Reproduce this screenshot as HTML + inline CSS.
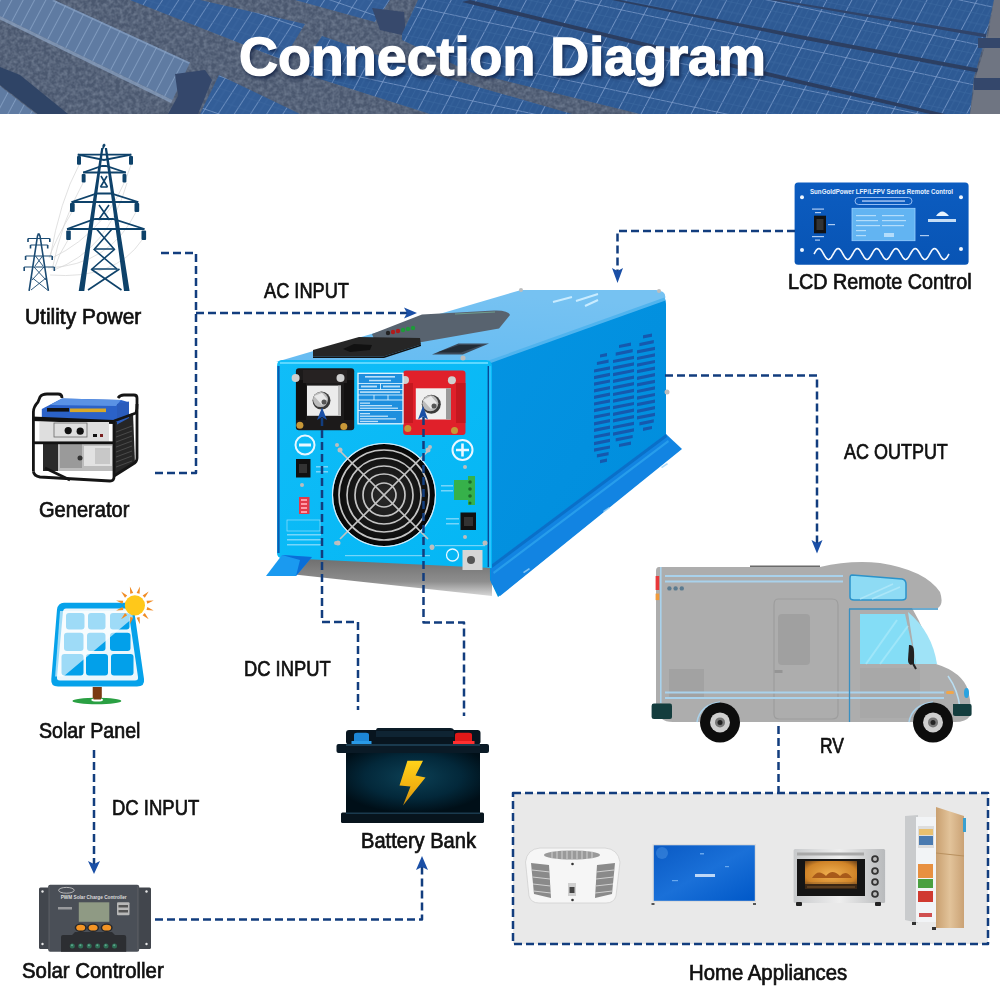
<!DOCTYPE html>
<html><head><meta charset="utf-8">
<style>
html,body{margin:0;padding:0;width:1000px;height:1000px;overflow:hidden;background:#fff}
body{position:relative;font-family:"Liberation Sans",sans-serif}
.lbl{position:absolute;font-size:21.5px;line-height:21px;color:#111;white-space:nowrap;transform-origin:0 0;-webkit-text-stroke:0.7px #111}
svg{position:absolute;left:0;top:0}
#title{position:absolute;left:239px;top:29px;font-size:54px;line-height:54px;font-weight:bold;color:#fff;white-space:nowrap;transform-origin:0 0;transform:scaleX(0.998);-webkit-text-stroke:1.3px #fff;text-shadow:2px 3px 4px rgba(10,25,60,.8)}
</style></head><body>
<!-- HEADER -->
<svg width="1000" height="114" viewBox="0 0 1000 114">
<defs>
<pattern id="pLight" width="10" height="60" patternUnits="userSpaceOnUse" patternTransform="rotate(28)"><rect width="10" height="60" fill="#5f7ba2"/><path d="M0 0V60" stroke="#8aa4c8" stroke-width="1.5"/></pattern>
<pattern id="pBlueL" width="14" height="36" patternUnits="userSpaceOnUse" patternTransform="rotate(19) skewX(-14)"><rect width="14" height="36" fill="#335e98"/><path d="M0 0V36M0 0H14" stroke="#7f9ecb" stroke-width="1.4"/><path d="M7 0V36M0 12H14M0 24H14" stroke="#3d689f" stroke-width="0.6"/></pattern>
<pattern id="pBlueR" width="23" height="40" patternUnits="userSpaceOnUse" patternTransform="rotate(12) skewX(-16)"><rect width="23" height="40" fill="#2e5a94"/><path d="M0 0V40M0 0H23" stroke="#7e9dcc" stroke-width="1.6"/><path d="M5.75 0V40M11.5 0V40M17.25 0V40M0 10H23M0 20H23M0 30H23" stroke="#3a669e" stroke-width="0.7"/></pattern>
<filter id="noise" x="0" y="0" width="100%" height="100%"><feTurbulence type="fractalNoise" baseFrequency="0.25" numOctaves="3" seed="7"/><feColorMatrix type="matrix" values="0 0 0 0 0.22  0 0 0 0 0.27  0 0 0 0 0.36  0 0 0 1.6 -0.5"/><feComposite in2="SourceGraphic" operator="in"/></filter>
</defs>
<rect width="1000" height="114" fill="#4b586f"/>
<rect width="1000" height="114" fill="#000" filter="url(#noise)" opacity="0.7"/>
<!-- left -->
<path d="M0 0H54L190 62.5L172.5 100L0 16Z" fill="url(#pLight)"/>
<path d="M0 16L172.5 100L171 103L0 19.5Z" fill="#8ea6c8" opacity="0.7"/>
<path d="M54 0L190 62.5L189 64L52 1Z" fill="#8ea6c8" opacity="0.6"/>
<path d="M0 67L20 75L68 114H37.5L0 85Z" fill="#2f4466"/>
<path d="M0 86L36 114H0Z" fill="url(#pLight)"/>
<path d="M175 74L205 70L212 80L198 114H168L178 96Z" fill="#34476b"/>
<path d="M130 0H200L305 24L283 60Z" fill="url(#pBlueL)"/>
<path d="M200 114L219 75L300 114Z" fill="url(#pBlueL)"/>
<path d="M295 0H390L375 22Z" fill="url(#pBlueL)"/>
<path d="M372 8L404 12L406 36L380 30Z" fill="#37496c"/>
<!-- field rows -->
<path d="M418 0H994L986 36L974 77L970 114H640L470 72L402 40V34Z" fill="url(#pBlueR)"/>
<path d="M322 36L431 73.5L572 114H430L298 72Z" fill="url(#pBlueR)"/>
<path d="M780 0L986 34V37.5L770 0Z" fill="#30446a"/>
<path d="M620 0L800 35L986 70V74L800 39L612 0Z" fill="#2c3f62"/>
<path d="M470 0L630 39L800 80L945 114H930L800 84L630 43L462 2Z" fill="#2b3d60"/>
<path d="M988 36H1000V114H970L976 76Z" fill="#6f7582"/>
<path d="M978 38H1000V48H978Z" fill="#34476b"/><path d="M974 78H1000V90H974Z" fill="#34476b"/>
<path d="M994 0H1000V36H988Z" fill="#6e7380"/>
</svg>
<div id="title">Connection Diagram</div>

<!-- MAIN SVG -->
<svg width="1000" height="1000" viewBox="0 0 1000 1000" id="main">
<defs>
<marker id="ah" viewBox="0 0 12 10" refX="11" refY="5" markerWidth="12" markerHeight="10" markerUnits="userSpaceOnUse" orient="auto"><path d="M0 0L12 5L0 10L3 5Z" fill="#1a4fa6"/></marker>
</defs>
<rect x="513" y="793" width="475" height="151" fill="#e9e9e9"/>

<!-- RV -->
<g id="rv">
<path d="M750 565.5H820V568H750Z" fill="#6a6a6a"/>
<path d="M659 567H820Q850 560 880 563Q925 570 940 592Q944 604 938 608H912Q925 630 936 664Q962 672 968 690Q972 705 970 716Q966 722 955 722H673Q658 722 656 708V571Q656 567 659 567Z" fill="#adadad"/>
<rect x="669" y="669" width="35" height="29" fill="#a2a2a2"/>
<path d="M778 599H832Q838 599 838 605V714Q838 719 832 719H779Q774 719 774 714V605Q774 599 778 599Z" fill="none" stroke="#9d9d9d" stroke-width="1.2"/>
<rect x="778" y="614" width="32" height="51" rx="4" fill="#a0a0a0"/>
<rect x="774.5" y="670" width="8" height="3" fill="#959595"/>
<path d="M860 668H920V718H860Z" fill="#a8a8a8"/>
<g fill="#a9d2ec"><rect x="665" y="575" width="178" height="2"/><rect x="665" y="580.5" width="178" height="2"/><rect x="665" y="691.5" width="279" height="2"/><rect x="665" y="697" width="279" height="2"/></g>
<rect x="660" y="567" width="1.6" height="136" fill="#a9d2ec"/>
<path d="M852 575L902 579Q906 580 906 584V597Q906 600 902 600H854Q850 600 850 597V578Q850 575 852 575Z" fill="#8edbf4" stroke="#2b93ca" stroke-width="1.5"/>
<path d="M860 599L893 584M872 599L900 587" stroke="#b8ebfa" stroke-width="1.5" opacity="0.7"/>
<path d="M849 609H938" stroke="#3a8fc0" stroke-width="1.3"/>
<path d="M849.5 609V722" stroke="#3a8fc0" stroke-width="1.3"/>
<path d="M860 614H905L916 664H860Z" fill="#84ddf6"/>
<path d="M866 664L897 620M880 664L908 626" stroke="#b1ecfb" stroke-width="2" opacity="0.6"/>
<path d="M908 612Q932 632 937 664H916Z" fill="#9fe3f7"/>
<path d="M909 645Q914 644 914 652V663L911 665Q908 664 908 660Z" fill="#222"/>
<path d="M911 660L916 669" stroke="#222" stroke-width="2"/>
<path d="M948 676Q958 690 960 708" stroke="#b9def2" stroke-width="1.5" fill="none"/>
<ellipse cx="966.5" cy="693" rx="2.5" ry="5" fill="#2aa3e0"/>
<rect x="946" y="691" width="8" height="3" rx="1.5" fill="#f0a64a"/>
<rect x="655.6" y="576" width="3.6" height="14" fill="#e8383a"/>
<rect x="655.6" y="593.6" width="3.6" height="6.5" fill="#f09a3a"/>
<g fill="#5b7b90"><circle cx="669.4" cy="588.4" r="2.2"/><circle cx="675.6" cy="588.4" r="2.2"/><circle cx="681.8" cy="588.4" r="2.2"/></g>
<path d="M651.6 706Q651.6 703.6 654 703.6H670Q672 703.6 672 706V717Q672 719 670 719H654Q651.6 719 651.6 717Z" fill="#143d3e"/>
<path d="M953 704H970Q971.6 704 971.6 706V714Q971.6 716 970 716H955Q953 716 953 714Z" fill="#143d3e"/>
<path d="M697 722Q700 705 720 702" stroke="#a9d2ec" stroke-width="1.5" fill="none"/>
<path d="M909 722Q912 705 933 702" stroke="#a9d2ec" stroke-width="1.5" fill="none"/>
<g><circle cx="720" cy="722.4" r="20" fill="#0d0d0d"/><circle cx="720" cy="722.4" r="10" fill="#cfcfcf"/><circle cx="720" cy="722.4" r="5" fill="#777"/><circle cx="720" cy="722.4" r="2.5" fill="#222"/></g>
<g><circle cx="933" cy="722.4" r="20" fill="#0d0d0d"/><circle cx="933" cy="722.4" r="10" fill="#cfcfcf"/><circle cx="933" cy="722.4" r="5" fill="#777"/><circle cx="933" cy="722.4" r="2.5" fill="#222"/></g>
</g>


<!-- BATTERY -->
<g id="battery">
<defs>
<radialGradient id="gBat" cx="0.5" cy="0.4" r="0.6"><stop offset="0" stop-color="#0c4055"/><stop offset="0.6" stop-color="#03283a"/><stop offset="1" stop-color="#000f18"/></radialGradient>
<linearGradient id="gBolt" x1="0" y1="0" x2="0" y2="1"><stop offset="0" stop-color="#ffd21a"/><stop offset="0.6" stop-color="#f0b010"/><stop offset="1" stop-color="#c88a10"/></linearGradient>
</defs>
<path d="M378 728H450Q454 728 454 731H376Q376 728 378 728Z" fill="#0c1c28"/>
<rect x="346" y="730" width="134.5" height="14.5" rx="3" fill="#08151f"/>
<rect x="376" y="731" width="78" height="6" fill="#0f2433"/>
<path d="M354 743V735Q354 732.8 357 732.8H366Q369 732.8 369 735V743Z" fill="#1c86d6"/>
<rect x="351.5" y="741" width="20" height="3" fill="#2a9ae6"/>
<path d="M455 743V735Q455 732.8 458 732.8H469Q472 732.8 472 735V743Z" fill="#e01818"/>
<rect x="453" y="741" width="21.5" height="3" fill="#ff3030"/>
<rect x="336.5" y="744" width="152.5" height="9" rx="2" fill="#0a1a26"/>
<rect x="346" y="744" width="134" height="2" fill="#1a3a4e"/>
<rect x="346" y="753" width="134" height="60" fill="url(#gBat)"/>
<rect x="341" y="812.5" width="143" height="10.5" rx="1.5" fill="#07141d"/>
<rect x="346" y="812.5" width="134" height="1.5" fill="#1a3a4e"/>
<path d="M407.4 760.8H423L415.5 775.5L425.5 777.5L403 805.5L410.5 786.5L399.5 785.5Z" fill="url(#gBolt)"/>
</g>


<!-- APPLIANCES -->
<g id="appliances">
<defs>
<linearGradient id="gTV" x1="0" y1="0" x2="1" y2="1"><stop offset="0" stop-color="#0a5ac4"/><stop offset="0.5" stop-color="#1a70d8"/><stop offset="1" stop-color="#0058c8"/></linearGradient>
<linearGradient id="gGold" x1="0" y1="0" x2="1" y2="0"><stop offset="0" stop-color="#c9a070"/><stop offset="0.5" stop-color="#e2c39a"/><stop offset="1" stop-color="#caa275"/></linearGradient>
<linearGradient id="gSilver" x1="0" y1="0" x2="1" y2="0"><stop offset="0" stop-color="#c8cacc"/><stop offset="0.5" stop-color="#eeeeee"/><stop offset="1" stop-color="#b8babc"/></linearGradient>
<radialGradient id="gOvenIn" cx="0.5" cy="0.5" r="0.7"><stop offset="0" stop-color="#f0b050"/><stop offset="0.7" stop-color="#d08428"/><stop offset="1" stop-color="#6a4018"/></radialGradient>
</defs>
<!-- AC unit -->
<path d="M540 848H605Q618 849 620 862L616 896Q614 903 606 903H539Q531 903 529 896L525.5 862Q527 849 540 848Z" fill="#f6f6f6"/>
<path d="M540 848H605Q618 849 620 862L616 896Q614 903 606 903H539Q531 903 529 896L525.5 862Q527 849 540 848Z" fill="none" stroke="#d0d0d0" stroke-width="0.8"/>
<ellipse cx="572" cy="855" rx="28" ry="4.5" fill="#9a9a9a"/>
<g stroke="#e0e0e0" stroke-width="0.8"><path d="M552 851V859M557 851V859M562 851V859M567 851V859M572 851V859M577 851V859M582 851V859M587 851V859M592 851V859"/></g>
<path d="M531 863L549 865L551 898L534 894Z" fill="#8a8a8a"/>
<path d="M615 863L597 865L595 898L612 894Z" fill="#8a8a8a"/>
<g stroke="#d0d0d0" stroke-width="1"><path d="M532 870L550 872M532.5 877L550 879M533 884L550.5 886M533.5 891L551 893M614 870L596 872M613.5 877L596 879M613 884L595.5 886M612.5 891L595 893"/></g>
<rect x="568" y="883" width="8" height="13" fill="#cfcfcf"/><rect x="569.5" y="887" width="5" height="6" fill="#444"/>
<circle cx="572.5" cy="864" r="1.3" fill="#333"/><circle cx="572.5" cy="900" r="1.3" fill="#333"/>
<!-- TV -->
<rect x="652.5" y="844" width="103.5" height="58" fill="#dcdcdc"/>
<rect x="653.8" y="845.3" width="101" height="55.5" fill="url(#gTV)"/>
<circle cx="662" cy="853" r="6" fill="#5aa0e8" opacity="0.4"/>
<rect x="695" y="874" width="20" height="3" fill="#e8f2ff" opacity="0.8"/>
<g fill="#9fd0ff" opacity="0.6"><rect x="700" y="853" width="4" height="1.5"/><rect x="672" y="880" width="6" height="1.2"/><rect x="725" y="866" width="4" height="1.2"/></g>
<rect x="651.5" y="903" width="3" height="2" fill="#555"/><rect x="753" y="903" width="3" height="2" fill="#555"/>
<!-- Oven -->
<rect x="793.6" y="849" width="91.5" height="54" rx="1.5" fill="url(#gSilver)"/>
<rect x="797" y="852.5" width="67" height="3" fill="#a8a8a8"/>
<rect x="797" y="859" width="68" height="37" fill="#151515"/>
<rect x="805" y="861" width="52" height="26" fill="url(#gOvenIn)"/>
<path d="M812 878Q818 868 826 876Q832 868 840 876Q846 869 852 878Z" fill="#a85a1a"/><rect x="805" y="884" width="52" height="5" fill="#3a2614"/>
<path d="M807 883H855M807 887H855" stroke="#8a6030" stroke-width="0.8"/>
<g fill="#333"><circle cx="875" cy="859" r="3.8"/><circle cx="875" cy="871" r="3.8"/><circle cx="875" cy="882" r="3.8"/><circle cx="875" cy="894" r="3.8"/></g>
<g fill="#bbb"><circle cx="875" cy="859" r="2"/><circle cx="875" cy="871" r="2"/><circle cx="875" cy="882" r="2"/><circle cx="875" cy="894" r="2"/></g>
<rect x="796" y="902" width="6" height="4" rx="1" fill="#222"/><rect x="875" y="902" width="6" height="4" rx="1" fill="#222"/>
<!-- Fridge -->
<path d="M905 816L918 815V923L905 920Z" fill="#c9cbcd"/>
<rect x="916" y="817" width="20" height="105" fill="#f2f4f6"/>
<rect x="918" y="826" width="16" height="22" fill="#ddd"/>
<rect x="919" y="829" width="14" height="6" fill="#e8c070"/>
<rect x="919" y="836" width="14" height="9" fill="#4a7ab0"/>
<rect x="918" y="864" width="15" height="14" fill="#e89040"/>
<rect x="918" y="879" width="15" height="9" fill="#4aa040"/>
<rect x="918" y="891" width="15" height="11" fill="#d03a30"/>
<rect x="919" y="913" width="13" height="4" fill="#d05050"/>
<path d="M936 807L964 816V928L936 928Z" fill="url(#gGold)"/>
<path d="M936 853L964 856" stroke="#b8905e" stroke-width="1"/>
<rect x="963" y="818" width="3" height="14" fill="#3aa0d0"/>
<rect x="932" y="927" width="4" height="3" fill="#333"/><rect x="912" y="922" width="4" height="3" fill="#333"/>
</g>


<!-- REMOTE -->
<g id="remote">
<defs><linearGradient id="gRem" x1="0" y1="0" x2="0" y2="1"><stop offset="0" stop-color="#0c5cc0"/><stop offset="1" stop-color="#0854b4"/></linearGradient></defs>
<rect x="794.6" y="182.4" width="174" height="82.3" rx="3.5" fill="url(#gRem)"/>
<text x="881.5" y="194.2" font-family="Liberation Sans" font-weight="bold" font-size="7.2" fill="#e8f2ff" text-anchor="middle" textLength="143" lengthAdjust="spacingAndGlyphs">SunGoldPower LFP/LFPV Series Remote Control</text>
<rect x="855" y="197.5" width="57" height="7" rx="3.5" fill="none" stroke="#b8d4ff" stroke-width="0.8"/>
<rect x="862" y="200.3" width="43" height="1.5" fill="#c8dcff" opacity="0.8"/>
<rect x="852" y="208.3" width="63" height="32.4" fill="#62b4f2" stroke="#9ad0ff" stroke-width="0.8"/>
<g fill="#d8efff" opacity="0.7"><rect x="856" y="215" width="20" height="1.2"/><rect x="882" y="215" width="22" height="1.2"/><rect x="856" y="220" width="22" height="1.2"/><rect x="882" y="220" width="24" height="1.2"/><rect x="856" y="225" width="24" height="1.2"/><rect x="882" y="225" width="22" height="1.2"/><rect x="856" y="230" width="10" height="1.2"/><rect x="856" y="235" width="10" height="1.2"/><rect x="884" y="233" width="10" height="4"/></g>
<rect x="814" y="215.7" width="12" height="17.6" fill="#111"/>
<rect x="816.5" y="219" width="7" height="11" fill="#333"/>
<g fill="#d8e8ff" opacity="0.8"><rect x="812" y="208.5" width="12" height="1.2"/><rect x="815" y="212" width="6" height="1.2"/><rect x="828" y="224" width="7" height="1.2"/><rect x="812" y="236" width="12" height="1.2"/><rect x="815" y="239.5" width="5" height="1.2"/><rect x="920" y="235" width="9" height="1.2"/></g>
<path d="M936 216Q942 207 949 216Z" fill="#e8f4ff"/>
<rect x="928" y="219" width="28" height="3" fill="#e8f4ff" opacity="0.85"/>
<g fill="#eef6ff"><circle cx="802" cy="197.2" r="2"/><circle cx="961" cy="197.2" r="2"/><circle cx="802" cy="250" r="2"/><circle cx="961" cy="249" r="2"/></g>
<path d="M814.0 254.0L815.0 252.3L815.9 250.8L816.9 249.6L817.9 248.8L818.8 248.5L819.8 248.8L820.8 249.6L821.7 250.8L822.7 252.3L823.6 254.0L824.6 255.7L825.6 257.2L826.5 258.4L827.5 259.2L828.5 259.5L829.4 259.2L830.4 258.4L831.4 257.2L832.3 255.7L833.3 254.0L834.2 252.3L835.2 250.8L836.2 249.6L837.1 248.8L838.1 248.5L839.1 248.8L840.0 249.6L841.0 250.8L842.0 252.3L842.9 254.0L843.9 255.7L844.9 257.2L845.8 258.4L846.8 259.2L847.8 259.5L848.7 259.2L849.7 258.4L850.6 257.2L851.6 255.7L852.6 254.0L853.5 252.3L854.5 250.8L855.5 249.6L856.4 248.8L857.4 248.5L858.4 248.8L859.3 249.6L860.3 250.8L861.2 252.3L862.2 254.0L863.2 255.7L864.1 257.2L865.1 258.4L866.1 259.2L867.0 259.5L868.0 259.2L869.0 258.4L869.9 257.2L870.9 255.7L871.9 254.0L872.8 252.3L873.8 250.8L874.8 249.6L875.7 248.8L876.7 248.5L877.6 248.8L878.6 249.6L879.6 250.8L880.5 252.3L881.5 254.0L882.5 255.7L883.4 257.2L884.4 258.4L885.4 259.2L886.3 259.5L887.3 259.2L888.2 258.4L889.2 257.2L890.2 255.7L891.1 254.0L892.1 252.3L893.1 250.8L894.0 249.6L895.0 248.8L896.0 248.5L896.9 248.8L897.9 249.6L898.9 250.8L899.8 252.3L900.8 254.0L901.8 255.7L902.7 257.2L903.7 258.4L904.6 259.2L905.6 259.5L906.6 259.2L907.5 258.4L908.5 257.2L909.5 255.7L910.4 254.0L911.4 252.3L912.4 250.8L913.3 249.6L914.3 248.8L915.2 248.5L916.2 248.8L917.2 249.6L918.1 250.8L919.1 252.3L920.1 254.0L921.0 255.7L922.0 257.2L923.0 258.4L923.9 259.2L924.9 259.5L925.9 259.2L926.8 258.4L927.8 257.2L928.8 255.7L929.7 254.0L930.7 252.3L931.6 250.8L932.6 249.6L933.6 248.8L934.5 248.5L935.5 248.8L936.5 249.6L937.4 250.8L938.4 252.3L939.4 254.0L940.3 255.7L941.3 257.2L942.2 258.4L943.2 259.2L944.2 259.5L945.1 259.2L946.1 258.4L947.1 257.2L948.0 255.7L949.0 254.0" fill="none" stroke="#f4f9ff" stroke-width="1.6"/>
</g>


<!-- CONTROLLER -->
<g id="controller">
<rect x="39" y="887.4" width="112" height="61.7" rx="1.5" fill="#42464d"/>
<rect x="48.2" y="884.8" width="91" height="67" rx="2" fill="#4a4f57"/>
<rect x="48.5" y="886" width="1.5" height="64" fill="#55585e"/><rect x="137" y="886" width="1.5" height="64" fill="#55585e"/>
<g fill="#e8e8e8"><circle cx="42.5" cy="891.5" r="1.2"/><circle cx="42.5" cy="944" r="1.2"/><circle cx="146.5" cy="891.5" r="1.2"/><circle cx="146.5" cy="944" r="1.2"/></g>
<ellipse cx="66.4" cy="890.3" rx="7.8" ry="2.9" fill="none" stroke="#cfcfcf" stroke-width="0.8"/>
<text x="93.7" y="898.5" font-family="Liberation Sans" font-weight="bold" font-size="5.2" fill="#dcdcdc" text-anchor="middle" textLength="66" lengthAdjust="spacingAndGlyphs">PWM Solar Charge Controller</text>
<rect x="58" y="907" width="14" height="2.5" fill="#bbb" opacity="0.7"/>
<rect x="78.8" y="902.3" width="30.5" height="19.5" fill="#8f9a84"/>
<rect x="117" y="902.3" width="12.5" height="13" rx="1" fill="#b8b8b8"/>
<rect x="118.5" y="905" width="9.5" height="2.5" fill="#555"/><rect x="118.5" y="910" width="9.5" height="2.5" fill="#555"/>
<g fill="#26282c"><ellipse cx="80.7" cy="927.7" rx="6" ry="4.2"/><ellipse cx="93.1" cy="927.7" rx="6" ry="4.2"/><ellipse cx="106.7" cy="927.7" rx="6" ry="4.2"/></g>
<g fill="#f39424"><ellipse cx="80.7" cy="927.7" rx="4.5" ry="2.9"/><ellipse cx="93.1" cy="927.7" rx="4.5" ry="2.9"/><ellipse cx="106.7" cy="927.7" rx="4.5" ry="2.9"/></g>
<path d="M61 951.7V937Q61 935 63 935H72L75 932H112L115 935H124Q126.2 935 126.2 937V951.7Z" fill="#2c2e32"/>
<g fill="#2f6e55"><circle cx="72.3" cy="945.9" r="2.5"/><circle cx="80.7" cy="945.9" r="2.5"/><circle cx="89.2" cy="945.9" r="2.5"/><circle cx="97.6" cy="945.9" r="2.5"/><circle cx="106" cy="945.9" r="2.5"/><circle cx="114.5" cy="945.9" r="2.5"/></g>
<g fill="#5fa890"><circle cx="72" cy="945.3" r="1"/><circle cx="80.4" cy="945.3" r="1"/><circle cx="88.9" cy="945.3" r="1"/><circle cx="97.3" cy="945.3" r="1"/><circle cx="105.7" cy="945.3" r="1"/><circle cx="114.2" cy="945.3" r="1"/></g>
</g>


<!-- SOLAR PANEL -->
<g id="solarpanel">
<defs><clipPath id="cpCells"><path d="M60 611H132L140 678H55Z"/></clipPath></defs>
<path d="M64 602.7H126Q133 602.5 134 609.5L144 679Q145 686.6 137 686.6H58Q50.5 686.6 51.3 679L57 609.5Q58 602.7 64 602.7Z" fill="#06a2ea"/>
<path d="M66 608.5H125Q128 608.5 128.5 611.5L138 677Q138.5 680.5 135 680.5H60Q56.5 680.5 57 677L63 611.5Q63.5 608.5 66 608.5Z" fill="#eaf6fc"/>
<g clip-path="url(#cpCells)">
<g fill="#02a0ea">
<rect x="66" y="613" width="18.5" height="16.4" rx="3"/><rect x="88" y="613" width="17.5" height="16.4" rx="3"/><rect x="110" y="613" width="19.5" height="16.4" rx="3"/>
<rect x="64" y="632.7" width="19.5" height="18.2" rx="3"/><rect x="87" y="632.7" width="18.5" height="18.2" rx="3"/><rect x="110" y="632.7" width="20.5" height="18.2" rx="3"/>
<rect x="61.5" y="654.1" width="22" height="21.5" rx="3"/><rect x="86" y="654.1" width="22" height="21.5" rx="3"/><rect x="111" y="654.1" width="22.5" height="21.5" rx="3"/>
</g>
<path d="M55 600H140V612L63.5 676.5H55Z" fill="#ffffff" opacity="0.62"/>
</g>
<path d="M92.7 687H101.8V699.6H92.7Z" fill="#7b3a12"/>
<ellipse cx="96.9" cy="701" rx="24.4" ry="3.3" fill="#2aa043"/>
<ellipse cx="97.2" cy="700" rx="6" ry="1.6" fill="#fff"/>
<rect x="93.5" y="694" width="7.5" height="5.5" fill="#7b3a12"/>
<path d="M147.3 607.1L153.7 610.4L146.5 610.1ZM144.8 613.1L148.7 619.2L142.6 615.3ZM139.6 617.0L139.9 624.2L136.6 617.8ZM133.2 617.8L129.9 624.2L130.2 617.0ZM127.2 615.3L121.1 619.2L125.0 613.1ZM123.3 610.1L116.1 610.4L122.5 607.1ZM122.5 603.7L116.1 600.4L123.3 600.7ZM125.0 597.7L121.1 591.6L127.2 595.5ZM130.2 593.8L129.9 586.6L133.2 593.0ZM136.6 593.0L139.9 586.6L139.6 593.8ZM142.6 595.5L148.7 591.6L144.8 597.7ZM146.5 600.7L153.7 600.4L147.3 603.7Z" fill="#f08c26"/>
<circle cx="134.9" cy="605.4" r="10.1" fill="#ffc81a"/>
</g>


<!-- GENERATOR -->
<g id="generator">
<path d="M113 421L133 413L135 463L114 476Z" fill="#262626"/>
<g stroke="#4a4a4a" stroke-width="1"><path d="M116 432L132 426M116 437L132 431M116 442L132 436M116 447L132 441M116 452L132 446M116 457L132 451M116 462L132 456M116 467L132 461"/></g>
<path d="M43 443H113V471H43Z" fill="#bdbdbd"/>
<path d="M43 443H58V471H43Z" fill="#2a2a2a"/>
<path d="M60 444H82V468H60Z" fill="#9a9a9a"/><path d="M84 446H112V466H84Z" fill="#e2e2e2"/>
<path d="M95 448H110V464H95Z" fill="#c8c8c8"/>
<circle cx="80" cy="458" r="2.5" fill="#333"/>
<path d="M41.8 409L62 398.5L121 400L128 402L117 422L41.8 418Z" fill="#2b62c8"/>
<path d="M62 398.5L121 400L116 406L50 405Z" fill="#5a92e4"/>
<path d="M117 404L129 401.5V418L117 424.6Z" fill="#2a5cbc"/>
<rect x="47" y="408" width="22" height="3.6" fill="#111"/>
<rect x="70" y="408.5" width="36" height="3.6" fill="#d8a828"/>
<path d="M32 416.5L114 420L114 424L32 421Z" fill="#111"/>
<rect x="39.4" y="422" width="69.6" height="19.4" fill="#dedede"/>
<rect x="54" y="423" width="33" height="14" fill="none" stroke="#6a6a6a" stroke-width="0.8"/>
<circle cx="68.2" cy="430.6" r="3.6" fill="#111"/><circle cx="80.2" cy="431.2" r="3.6" fill="#111"/>
<rect x="93" y="434" width="4" height="3" fill="#111"/><rect x="100" y="434" width="3" height="3" fill="#7a2020"/>
<rect x="32" y="441.4" width="82" height="2.8" fill="#111"/>
<g fill="none" stroke="#151515" stroke-width="2.8" stroke-linejoin="round">
<path d="M33.4 471.5V412Q33.4 407 38 402L40 397Q42 394 47 394H58Q62 394 62 398"/>
<path d="M33.4 471.5Q34 476 40 477L110 481Q114 481 114 477V421"/>
<path d="M114 421L136 413Q137 410 137 404V398Q137 395 134 395H124Q120 395 118 398"/>
<path d="M137 404V458Q137 462 133 464L114 476"/>
<path d="M45 468L70 480"/>
</g>
</g>


<!-- TOWERS -->
<g id="towers">
<g fill="none" stroke="#d4d4d4" stroke-width="0.7">
<path d="M79 165Q60 200 50 258"/><path d="M83 183Q62 220 52 270"/><path d="M72 212Q55 240 49 258"/><path d="M68 240Q58 255 54 270"/>
<path d="M131 165Q110 230 52 258"/><path d="M127 183Q108 250 54 270"/><path d="M136 212Q110 265 48 268"/><path d="M142 240Q115 280 50 275"/>
</g>
<g fill="#0e426a">
<path d="M102.5 145L104.1 143.5L105.7 145L102.3 151ZM101.2 148H103.4L84.3 291H78.7ZM104.8 148H107L129.6 291H124Z"/>
</g>
<g stroke="#0e426a" fill="none">
<g stroke-width="1.8">
<path d="M77.8 154.7H131.3M83.2 172.5H125.8M71.6 202H138.2M67 229H144.4"/>
<path d="M77.8 154.7L104 160L131.3 154.7M83.2 172.5L102 166L106 166L125.8 172.5M71.6 202L97 193.5H111L138.2 202M67 229L95 219H113L144.4 229"/>
</g>
<g stroke-width="1.6">
<path d="M101 176L107.5 187M107 176L100.5 187M99 205L109.5 220M109 205L98.5 220M96.5 229L114 249M112 229L94.5 249M93.5 249L117 269M115 249L92 269M91 269L121.5 290M119.5 269L88 290"/>
<path d="M94.5 249H114.5M92 269H117.5M100.5 187H107.5"/>
</g>
</g>
<g fill="#0e426a">
<rect x="77" y="156" width="4" height="8.8" rx="1"/><rect x="129" y="156" width="4" height="8.8" rx="1"/>
<rect x="81.7" y="174" width="3.9" height="8.6" rx="1"/><rect x="122.5" y="174" width="3.9" height="8.6" rx="1"/>
<rect x="70" y="203" width="4.7" height="9" rx="1"/><rect x="134.5" y="203" width="4.7" height="9" rx="1"/>
<rect x="66.2" y="230.5" width="4.6" height="9.5" rx="1"/><rect x="141.5" y="230.5" width="4.6" height="9.5" rx="1"/>
</g>
<g stroke="#1a4a72" fill="none">
<path d="M38.6 233.4L37.5 236L29.1 290.8M38.6 233.4L40 236L48.4 290.8" stroke-width="1.6"/>
<path d="M28 238.5H49.8M30.5 245H47.7M25.6 256H52.2M24.2 267H54.3" stroke-width="1.2"/>
<path d="M28 238.5V242M49.8 238.5V242M30.5 245V248.5M47.7 245V248.5M25.6 256V260M52.2 256V260M24.2 267V271M54.3 267V271" stroke-width="1.6"/>
<path d="M34 267L46 280M44 267L32 280M32.5 278L47.5 290M46 278L31 290M35.5 256L43 266M42.5 256L35 266" stroke-width="0.9"/>
</g>
</g>

<!-- INVERTER -->
<g id="inverter">
<defs>
<linearGradient id="gTop" x1="0" y1="1" x2="0.3" y2="0"><stop offset="0" stop-color="#66bcf2"/><stop offset="1" stop-color="#76c2f2"/></linearGradient>
<linearGradient id="gSide" x1="0" y1="0" x2="1" y2="1"><stop offset="0" stop-color="#0494e2"/><stop offset="1" stop-color="#008cdc"/></linearGradient>
<linearGradient id="gFront" x1="0" y1="0" x2="1" y2="1"><stop offset="0" stop-color="#10bdf8"/><stop offset="1" stop-color="#04b6f4"/></linearGradient>
<linearGradient id="gShadow" x1="0" y1="0" x2="0" y2="1"><stop offset="0" stop-color="#6a6a6a"/><stop offset="0.65" stop-color="#8e8e8e"/><stop offset="1" stop-color="#d8d8d8"/></linearGradient>
<radialGradient id="gFan" cx="0.5" cy="0.5" r="0.5"><stop offset="0" stop-color="#2a2a2a"/><stop offset="0.8" stop-color="#111"/><stop offset="1" stop-color="#050505"/></radialGradient>
</defs>
<!-- shadow under -->
<path d="M286 555L492 566L492 596L290 574Z" fill="url(#gShadow)"/>
<!-- side face -->
<path d="M488 361L660 298Q666 296 666 304V437L681 449L498 597L490 580Z" fill="url(#gSide)"/>
<!-- bracket flange side -->
<path d="M491 565L666 434L682 449L500 596L491 582Z" fill="#1284e2"/>
<path d="M491 565L666 434L667 437L492 568Z" fill="#0a70c8"/><path d="M493 572L668 440L669 442L494 574Z" fill="#30a8f0" opacity="0.7"/><g fill="#9fd4f8" opacity="0.8"><path d="M523 572l6-4 1 1.2-6 4z"/><path d="M603 511l6-4 1 1.2-6 4z"/><path d="M661 467l6-4 1 1.2-6 4z"/></g>
<!-- top face -->
<path d="M276 362L521 290L656 290Q667 291 665 299L489 362Z" fill="url(#gTop)"/>
<path d="M489 362L665 299" stroke="#50b4ee" stroke-width="3" fill="none"/>
<!-- front face -->
<path d="M282 360H486Q492 360 492 367V568L282 558Q277 558 277 553V366Q277 360 282 360Z" fill="url(#gFront)"/>
<path d="M280 363H488" stroke="#5cd8ff" stroke-width="2"/><path d="M278.5 366V553" stroke="#0a5ab0" stroke-width="2.2"/><path d="M488.3 366V567" stroke="#0a4a98" stroke-width="1.4"/><path d="M490.2 366V568" stroke="#30c4ff" stroke-width="1.4"/>
<!-- left flange -->
<path d="M266 576L282 555L312 557L296 576Z" fill="#1a9af0"/>
<path d="M282 555L312 557L296 576L300 560Z" fill="#0a6ed8"/>
<!-- top items -->
<path d="M372 334L422 314.5L494 310.5Q508 310 510 315L499 328.5L422 342L376 344Z" fill="#58636f"/><path d="M455 314L495 312" stroke="#7fc4a0" stroke-width="1" opacity="0.6"/>
<path d="M313 350L359 337L420 338L421 344.5L383.5 356.6L313 356.6Z" fill="#262626"/><path d="M313 356.6L383.5 356.6L421 344.5L421 346L384 358L313 358Z" fill="#111"/><path d="M343 349L354 344L372 345L370 350L350 352Z" fill="#111"/>
<path d="M432 354.4L458.4 343.4L489 343.4L462.8 354.4Z" fill="#3c4a5a"/><path d="M437 352.5L459 345L482 345L461 352.5Z" fill="#222c36"/>
<g><circle cx="388" cy="333" r="2.2" fill="#222"/><circle cx="393" cy="332" r="2.2" fill="#b01c1c"/><circle cx="398" cy="331" r="2.2" fill="#b01c1c"/><circle cx="403" cy="330" r="2.2" fill="#1e9a3a"/><circle cx="408" cy="329" r="2.2" fill="#1e9a3a"/><circle cx="413" cy="328" r="2.2" fill="#1e9a3a"/></g>
<path d="M553 302L572 297M576 301L598 294M585 306L598 300" stroke="#c9ecff" stroke-width="2" fill="none"/>
<!-- vents on side -->
<g fill="#1559ae"><path d="M600.0 354.4L607.0 353.0L607.0 356.2L600.0 357.6ZM596.9 361.9L608.6 359.6L608.6 362.8L596.9 365.1ZM594.0 369.4L610.0 366.2L610.0 369.4L594.0 372.6ZM594.0 376.0L610.0 372.8L610.0 376.0L594.0 379.2ZM594.0 382.6L610.0 379.4L610.0 382.6L594.0 385.8ZM594.0 389.2L610.0 386.0L610.0 389.2L594.0 392.4ZM594.0 395.8L610.0 392.6L610.0 395.8L594.0 399.0ZM594.0 402.4L610.0 399.2L610.0 402.4L594.0 405.6ZM594.0 409.0L610.0 405.8L610.0 409.0L594.0 412.2ZM594.0 415.6L610.0 412.4L610.0 415.6L594.0 418.8ZM594.0 422.2L610.0 419.0L610.0 422.2L594.0 425.4ZM594.0 428.8L610.0 425.6L610.0 428.8L594.0 432.0ZM594.0 435.4L610.0 432.2L610.0 435.4L594.0 438.6ZM594.0 442.0L610.0 438.8L610.0 442.0L594.0 445.2ZM594.0 448.6L610.0 445.4L610.0 448.6L594.0 451.8ZM596.9 454.3L608.6 452.0L608.6 455.2L596.9 457.5ZM600.0 460.0L607.0 458.6L607.0 461.8L600.0 463.2ZM619.0 344.9L631.0 342.5L631.0 345.7L619.0 348.1ZM615.7 352.5L632.7 349.1L632.7 352.3L615.7 355.7ZM613.0 359.9L634.0 355.7L634.0 358.9L613.0 363.1ZM613.0 366.5L634.0 362.3L634.0 365.5L613.0 369.7ZM613.0 373.1L634.0 368.9L634.0 372.1L613.0 376.3ZM613.0 379.7L634.0 375.5L634.0 378.7L613.0 382.9ZM613.0 386.3L634.0 382.1L634.0 385.3L613.0 389.5ZM613.0 392.9L634.0 388.7L634.0 391.9L613.0 396.1ZM613.0 399.5L634.0 395.3L634.0 398.5L613.0 402.7ZM613.0 406.1L634.0 401.9L634.0 405.1L613.0 409.3ZM613.0 412.7L634.0 408.5L634.0 411.7L613.0 415.9ZM613.0 419.3L634.0 415.1L634.0 418.3L613.0 422.5ZM613.0 425.9L634.0 421.7L634.0 424.9L613.0 429.1ZM613.0 432.5L634.0 428.3L634.0 431.5L613.0 435.7ZM615.7 438.3L632.7 434.9L632.7 438.1L615.7 441.5ZM619.0 443.9L631.0 441.5L631.0 444.7L619.0 447.1ZM643.0 335.3L652.0 333.5L652.0 336.7L643.0 338.5ZM639.4 343.0L653.8 340.1L653.8 343.3L639.4 346.2ZM637.0 350.3L655.0 346.7L655.0 349.9L637.0 353.5ZM637.0 356.9L655.0 353.3L655.0 356.5L637.0 360.1ZM637.0 363.5L655.0 359.9L655.0 363.1L637.0 366.7ZM637.0 370.1L655.0 366.5L655.0 369.7L637.0 373.3ZM637.0 376.7L655.0 373.1L655.0 376.3L637.0 379.9ZM637.0 383.3L655.0 379.7L655.0 382.9L637.0 386.5ZM637.0 389.9L655.0 386.3L655.0 389.5L637.0 393.1ZM637.0 396.5L655.0 392.9L655.0 396.1L637.0 399.7ZM637.0 403.1L655.0 399.5L655.0 402.7L637.0 406.3ZM637.0 409.7L655.0 406.1L655.0 409.3L637.0 412.9ZM637.0 416.3L655.0 412.7L655.0 415.9L637.0 419.5ZM639.4 422.2L653.8 419.3L653.8 422.5L639.4 425.4ZM643.0 427.7L652.0 425.9L652.0 429.1L643.0 430.9Z"/></g>
<!-- terminals -->
<rect x="295.9" y="368.3" width="58.3" height="62" rx="3" fill="#1c1a1a"/>
<path d="M296 380H306V420H296Z" fill="#121010"/><path d="M344 380H354V420H344Z" fill="#121010"/>
<rect x="303" y="370" width="44" height="13" fill="#262222"/>
<rect x="307" y="385.6" width="34" height="30.2" fill="#ececec"/>
<rect x="338" y="385.6" width="3" height="30.2" fill="#bdbdbd"/>
<circle cx="321.5" cy="400.6" r="9" fill="#3a3a3a"/><circle cx="320.5" cy="399.6" r="7.5" fill="#bcbcbc"/><path d="M314 396L322 393L327 399L322 405Z" fill="#e8e8e8"/><circle cx="324" cy="402" r="2.5" fill="#555"/>
<circle cx="295.6" cy="378" r="4" fill="#d0d0d0"/><circle cx="340.5" cy="378" r="4" fill="#d0d0d0"/>
<circle cx="299.9" cy="425.2" r="3.5" fill="#c89838"/><circle cx="343.8" cy="426.6" r="3.5" fill="#c89838"/>
<rect x="403.2" y="370.5" width="62.3" height="64.5" rx="3" fill="#e0202a"/>
<path d="M403.5 383H413V423H403.5Z" fill="#c41820"/><path d="M456 383H465.5V423H456Z" fill="#c41820"/>
<rect x="415.8" y="388.3" width="35" height="31.2" fill="#f0f0f0"/>
<rect x="446" y="388.3" width="5" height="31.2" fill="#9a9a9a"/>
<circle cx="431.3" cy="404.3" r="9.5" fill="#3a3a3a"/><circle cx="430.3" cy="403.3" r="8" fill="#bcbcbc"/><path d="M423 400L431 396L437 403L431 409Z" fill="#e8e8e8"/><circle cx="434" cy="406" r="2.5" fill="#555"/>
<circle cx="405" cy="380" r="4" fill="#d0d0d0"/><circle cx="451.9" cy="380.3" r="4" fill="#d0d0d0"/>
<circle cx="407.8" cy="428.6" r="3.5" fill="#c89838"/><circle cx="454.5" cy="430.5" r="3.5" fill="#c89838"/>
<rect x="358" y="373.3" width="45" height="50.5" fill="#1e8fde" stroke="#e6f6ff" stroke-width="1.3"/>
<g fill="none" stroke="#d8f0ff" stroke-width="0.9">
<path d="M358 383.5H403M358 389.5H403M358 395H403M358 400H403M358 410.5H403M380.5 383.5V389.5M374 395V400M388 395V400"/>
</g>
<g fill="#d8f0ff" opacity="0.85"><rect x="365" y="376" width="30" height="1.6"/><rect x="369" y="379.8" width="22" height="1.5"/><rect x="361" y="385.6" width="16" height="1.8"/><rect x="383" y="385.6" width="17" height="1.8"/><rect x="360" y="391.3" width="40" height="1.6"/><rect x="360" y="402.5" width="10" height="1.3"/><rect x="360" y="405" width="32" height="1.3"/><rect x="360" y="407.6" width="38" height="1.3"/><rect x="360" y="413" width="10" height="1.3"/><rect x="360" y="415.6" width="28" height="1.3"/><rect x="360" y="418.2" width="36" height="1.3"/><rect x="360" y="420.8" width="18" height="1.3"/></g>
<!-- minus / plus -->
<circle cx="305" cy="445" r="9.5" fill="none" stroke="#eaf7ff" stroke-width="2"/>
<rect x="299" y="443.5" width="12" height="3" fill="#eaf7ff"/>
<circle cx="462.5" cy="450" r="10" fill="none" stroke="#eaf7ff" stroke-width="2"/>
<path d="M456 450H469M462.5 443.5V456.5" stroke="#eaf7ff" stroke-width="2.6"/>
<!-- fan -->
<circle cx="384" cy="495" r="52" fill="#e6f2fa" opacity="0.5"/>
<circle cx="384" cy="495" r="51" fill="url(#gFan)"/>
<g fill="none" stroke="#c4c4c4" stroke-width="1.7">
<circle cx="384" cy="495" r="45"/><circle cx="384" cy="495" r="37"/><circle cx="384" cy="495" r="29"/><circle cx="384" cy="495" r="21"/><circle cx="384" cy="495" r="12"/>
<path d="M340 451L428 539M428 451L340 539"/>
</g>
<circle cx="384" cy="495" r="51.5" fill="none" stroke="#d8ecf8" stroke-width="1.2"/>
<circle cx="340" cy="450" r="2.5" fill="#c0c0c0"/><circle cx="428" cy="450" r="2.5" fill="#c0c0c0"/><circle cx="338" cy="543" r="2.5" fill="#c0c0c0"/><circle cx="432" cy="547" r="2.5" fill="#c0c0c0"/>
<!-- ports -->
<rect x="296" y="459" width="14.5" height="18.5" fill="#111"/>
<rect x="299" y="464" width="8" height="9" fill="#333"/>
<rect x="299" y="497" width="10.5" height="17" fill="#e23a4a"/>
<g fill="#ff9aa5"><rect x="301" y="499" width="6" height="2"/><rect x="301" y="503" width="6" height="2"/><rect x="301" y="507" width="6" height="2"/><rect x="301" y="511" width="6" height="2"/></g>
<path d="M454 480H468V476H475V505H468V500H454Z" fill="#36b14a"/>
<g fill="#1a6e2a"><circle cx="470" cy="482" r="1.8"/><circle cx="470" cy="489" r="1.8"/><circle cx="470" cy="496" r="1.8"/><circle cx="470" cy="503" r="1.5"/></g>
<rect x="460.5" y="512.5" width="15.5" height="17.5" fill="#111"/>
<rect x="464" y="517" width="9" height="9" fill="#333"/>
<rect x="462.5" y="550" width="20" height="20" fill="#d6d6d6"/>
<circle cx="471" cy="560" r="4" fill="#555"/>
<circle cx="452.5" cy="555" r="6" fill="none" stroke="#eaf7ff" stroke-width="1.3"/>
<g fill="#cfeeff" opacity="0.55"><rect x="287" y="534" width="34" height="1.5"/><rect x="287" y="539" width="34" height="1.5"/><rect x="287" y="544" width="34" height="1.5"/><rect x="345" y="555" width="85" height="1.2"/><rect x="435" y="545" width="50" height="1.2"/><rect x="316" y="466" width="12" height="1.5"/><rect x="316" y="471" width="12" height="1.5"/><rect x="441" y="485" width="12" height="1.5"/><rect x="441" y="490" width="12" height="1.5"/><rect x="446" y="518" width="13" height="1.5"/><rect x="446" y="523" width="13" height="1.5"/></g>
<g fill="none" stroke="#cfeeff" stroke-width="0.7" opacity="0.7"><rect x="287" y="520" width="33" height="11"/></g>
<g fill="#bdbdbd"><circle cx="463" cy="358" r="2.5"/><circle cx="521" cy="290" r="2"/><circle cx="659" cy="291" r="2"/><circle cx="667" cy="392" r="2.5"/><circle cx="485" cy="543" r="2.5"/><circle cx="302" cy="485" r="2"/><circle cx="465" cy="467" r="2"/><circle cx="465" cy="537" r="2"/><circle cx="337" cy="445" r="2"/><circle cx="430" cy="447" r="2"/><circle cx="336" cy="543" r="2"/><circle cx="432" cy="548" r="2"/></g>
</g>

<g fill="none" stroke="#123d7e" stroke-width="2.5" stroke-dasharray="8 4" stroke-linejoin="round">
<path d="M161 253H196V473H153"/>
<path d="M196 313H408"/>
<path d="M795 231H617.5V272"/>
<path d="M665 375.5H817V543"/>
<path d="M322 418V622H358V710"/>
<path d="M423.5 417V622.5H464V716"/>
<path d="M94 750V864"/>
<path d="M155 919.5H422V866"/>
<path d="M778.5 726V793"/>
<rect x="513" y="793" width="475" height="151"/>
</g>
<g fill="#1a4fa6">
<path d="M417 313L404 307.5L407 313L404 318.5Z"/>
<path d="M617.5 283L612 268L617.5 271L623 268Z"/>
<path d="M817 553.5L811.5 540L817 543L822.5 540Z"/>
<path d="M94 874L88 861L94 864L100 861Z"/>
<path d="M422 856L416 870L422 867L428 870Z"/>
<path d="M322 407.5L317 420L322 417L327 420Z"/>
<path d="M423 406L418 419.5L423 416.5L428 419.5Z"/>
</g>
</svg>

<!-- LABELS -->
<div class="lbl" id="l1" style="left:25.03px;top:306.80px;transform:scaleX(0.9731)">Utility Power</div>
<div class="lbl" id="l2" style="left:39.03px;top:499.80px;transform:scaleX(0.9338)">Generator</div>
<div class="lbl" id="l3" style="left:38.83px;top:720.80px;transform:scaleX(0.9126)">Solar Panel</div>
<div class="lbl" id="l4" style="left:22.02px;top:961.00px;transform:scaleX(0.9485)">Solar Controller</div>
<div class="lbl" id="l5" style="left:264.00px;top:280.50px;transform:scaleX(0.8471)">AC INPUT</div>
<div class="lbl" id="l6" style="left:112.02px;top:798.40px;transform:scaleX(0.8600)">DC INPUT</div>
<div class="lbl" id="l7" style="left:244.03px;top:659.20px;transform:scaleX(0.8540)">DC INPUT</div>
<div class="lbl" id="l8" style="left:360.83px;top:830.60px;transform:scaleX(0.9341)">Battery Bank</div>
<div class="lbl" id="l9" style="left:788.03px;top:272.20px;transform:scaleX(0.9197)">LCD Remote Control</div>
<div class="lbl" id="l10" style="left:843.80px;top:442.00px;transform:scaleX(0.8359)">AC OUTPUT</div>
<div class="lbl" id="l11" style="left:819.63px;top:736.20px;transform:scaleX(0.8101)">RV</div>
<div class="lbl" id="l12" style="left:689.02px;top:963.00px;transform:scaleX(0.9459)">Home Appliances</div>
</body></html>
